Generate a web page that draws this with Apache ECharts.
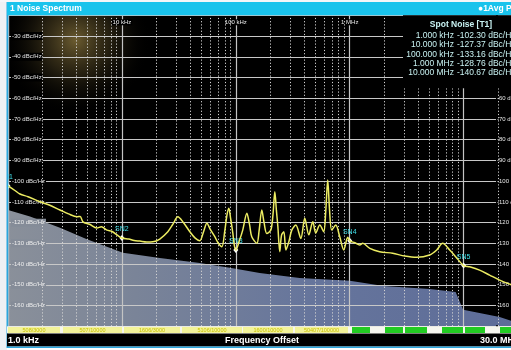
<!DOCTYPE html>
<html><head><meta charset="utf-8">
<script src="https://cdn.jsdelivr.net/npm/echarts@6/dist/echarts.min.js"></script>
<style>html,body{margin:0;padding:0;background:#fff;overflow:hidden}#c{width:511px;height:350px}</style>
</head><body><div id="c"></div>
<script>
// ---- data ----
const traceFreq = [1000,1150,1274,1500,1909,2300,2858,3400,4030,4300,4550,5200,6030,6600,7390,8200,9040,10000,11500,12800,14380,16500,18700,21500,25300,28000,31000,34500,39500,44000,48300,52000,55700,60000,65400,70000,75400,80000,83500,86800,90000,94100,97000,100000,107000,115000,125000,132000,138000,153000,160000,169000,177000,187000,203000,212000,220000,227000,234000,243000,252000,264000,275000,292000,310000,336000,372000,403000,437000,474000,503000,546000,591000,615000,641000,665000,695000,754000,817000,886000,961000,1000000,1107000,1224000,1300000,1500000,1830000,2380000,3040000,3870000,5030000,5800000,6540000,7540000,8510000,10000000,11290000,13800000,16900000,20700000,24300000,30000000];
const traceDb = [-102.3,-104.5,-106.2,-107.5,-109.9,-111.5,-113.9,-115.8,-117.2,-117.0,-119.6,-120.8,-122.6,-122.0,-123.6,-124.3,-125.9,-127.4,-127.9,-128.6,-128.9,-129.3,-129.2,-127.9,-124.4,-120.8,-117.2,-119.8,-124.4,-127.5,-128.7,-124.5,-120.3,-123.5,-126.8,-129.8,-131.6,-124.0,-116.5,-113.1,-118.0,-125.0,-131.0,-133.2,-129.0,-123.6,-115.5,-121.0,-126.8,-130.0,-124.0,-113.9,-120.0,-125.2,-123.6,-116.0,-105.1,-114.0,-122.0,-134.0,-126.0,-124.4,-133.2,-129.2,-123.6,-121.2,-127.6,-117.9,-125.9,-119.6,-125.0,-121.2,-124.4,-115.0,-99.4,-114.0,-123.6,-121.2,-126.8,-133.2,-127.0,-128.8,-129.7,-130.8,-130.0,-132.4,-134.0,-134.8,-136.1,-136.7,-135.6,-133.2,-130.0,-133.2,-136.4,-140.7,-141.3,-142.9,-145.3,-147.7,-149.3,-151.0];
const floorFreq = [1000,1560,2860,4930,10200,21500,48300,94000,162000,364000,1000000,1990000,5030000,8500000,9900000,20700000,30000000];
const floorDb = [-113.9,-117.0,-122.5,-128.0,-134.5,-137.0,-139.5,-142.0,-144.3,-146.7,-148.0,-150.6,-152.0,-153.5,-162.0,-165.5,-168.5];
const spotFreq = [1e3,1e4,1e5,1e6,1e7];
const spotLabels = ['1.000 kHz','10.000 kHz','100.000 kHz','1.000 MHz','10.000 MHz'];
const spotDb = [-102.30,-127.37,-133.16,-128.76,-140.67];
const spotMarkers = ['M1','SN2','SN3','SN4','SN5'];
const majorLabels = {4:'10 kHz',5:'100 kHz',6:'1 MHz'};
const minorMultiples = [2,3,4,5,6,7,8,9];
const decades = [1e3,1e4,1e5,1e6,1e7];
const statusTexts = ['508/3000','507/10000','1606/3000','5106/10000','1600/10000','50407/100000'];
const titleText = '1 Noise Spectrum';
const tableTitle = 'Spot Noise [T1]';
const xStartText = '1.0 kHz', xNameText = 'Frequency Offset', xEndText = '30.0 MHz';

// ---- chart ----
const FONT = '"Liberation Sans", Arial, sans-serif';
const chart = echarts.init(document.getElementById('c'), null, {renderer:'canvas'});
const minorFreqs = [];
decades.forEach(d => minorMultiples.forEach(m => { if (m*d < 3e7) minorFreqs.push(m*d); }));

const yLab = v => {
  if (v <= -170 || v >= -20) return '';
  return (v <= -120 ? '{b|' : '{a|') + v + ' dBc/Hz}';
};
const yLabR = v => (v <= -60 && v >= -160) ? (v + ' dBc/Hz') : '';

const els = [];
// plot background + glare
els.push({type:'rect', z:0, shape:{x:8,y:15.3,width:515,height:311}, style:{fill:'#000'}});
els.push({type:'rect', z:1, shape:{x:8,y:15.3,width:150,height:125},
  style:{fill:new echarts.graphic.RadialGradient(0.45,0.2,0.6,[
    {offset:0,color:'rgba(135,115,60,0.8)'},{offset:0.45,color:'rgba(85,72,38,0.45)'},{offset:1,color:'rgba(0,0,0,0)'}])}});
// frame
els.push({type:'rect', z:20, shape:{x:0,y:0,width:7,height:350}, style:{fill:'#eef1f4'}});
els.push({type:'rect', z:20, shape:{x:0,y:0,width:511,height:2}, style:{fill:'#f4f6f8'}});
els.push({type:'rect', z:20, shape:{x:6.5,y:2,width:1.8,height:346}, style:{fill:'#2aa6dc'}});
els.push({type:'rect', z:20, shape:{x:7,y:2,width:504,height:13.3}, style:{fill:'#19c3ec'}});
els.push({type:'text', z:21, x:10, y:9, style:{text:titleText, fill:'#ffffff', font:'bold 8.5px '+FONT, verticalAlign:'middle', textVerticalAlign:'middle'}});
els.push({type:'text', z:21, x:478, y:9, style:{text:'\u25CF1Avg Pk', fill:'#ffffff', font:'bold 8.5px '+FONT, verticalAlign:'middle', textVerticalAlign:'middle'}});
// spot noise table
els.push({type:'rect', z:20, shape:{x:403,y:15.3,width:110,height:73}, style:{fill:'#000'}});
els.push({type:'text', z:21, x:461, y:24.3, style:{text:tableTitle, fill:'#c8f2f2', font:'bold 8.5px '+FONT, align:'center', textAlign:'center', verticalAlign:'middle', textVerticalAlign:'middle'}});
const rowY = [35.7,45,54.3,63.5,72.7];
spotLabels.forEach((s,i) => {
  els.push({type:'text', z:21, x:454, y:rowY[i], style:{text:s, fill:'#c8f2f2', font:'8.5px '+FONT, align:'right', textAlign:'right', verticalAlign:'middle', textVerticalAlign:'middle'}});
  els.push({type:'text', z:21, x:457, y:rowY[i], style:{text:spotDb[i].toFixed(2)+' dBc/Hz', fill:'#c8f2f2', font:'8.5px '+FONT, verticalAlign:'middle', textVerticalAlign:'middle'}});
});
// status strip
els.push({type:'rect', z:20, shape:{x:7,y:326.3,width:504,height:7.2}, style:{fill:'#f6f6ee'}});
const yBlocks = [[8,60],[63,122],[124,180],[182,242],[243,293],[295,348]];
yBlocks.forEach((b,i) => {
  els.push({type:'rect', z:21, shape:{x:b[0],y:327,width:b[1]-b[0],height:6}, style:{fill:'#f3f39a'}});
  els.push({type:'text', z:22, x:(b[0]+b[1])/2, y:330.2, style:{text:statusTexts[i], fill:'#c8c000', font:'5.5px '+FONT, align:'center', textAlign:'center', verticalAlign:'middle', textVerticalAlign:'middle'}});
});
const gBlocks = [[352,370],[385,403],[405,427],[442,463],[465,485],[500,511]];
gBlocks.forEach(b => els.push({type:'rect', z:21, shape:{x:b[0],y:327,width:b[1]-b[0],height:6}, style:{fill:'#22cc22'}}));
// bottom bar
els.push({type:'rect', z:20, shape:{x:7,y:333.5,width:504,height:13}, style:{fill:'#000'}});
els.push({type:'rect', z:20, shape:{x:7,y:346.5,width:504,height:1.6}, style:{fill:'#2aa6dc'}});
els.push({type:'text', z:21, x:8, y:340.2, style:{text:xStartText, fill:'#fff', font:'bold 9px '+FONT, verticalAlign:'middle', textVerticalAlign:'middle'}});
els.push({type:'text', z:21, x:262, y:340.2, style:{text:xNameText, fill:'#fff', font:'bold 9px '+FONT, align:'center', textAlign:'center', verticalAlign:'middle', textVerticalAlign:'middle'}});
els.push({type:'text', z:21, x:480, y:340.2, style:{text:xEndText, fill:'#fff', font:'bold 9px '+FONT, verticalAlign:'middle', textVerticalAlign:'middle'}});

const option = {
  animation:false,
  backgroundColor:'#ffffff',
  grid:{left:8,right:-7,top:15.3,bottom:23.7,containLabel:false,outerBoundsMode:'none',show:false},
  xAxis:[{type:'log',logBase:10,min:1000,max:3e7,position:'top',z:3,
    axisLine:{show:false},axisTick:{show:false},
    axisLabel:{inside:true,margin:4,fontSize:6,color:'#e8e8e8',fontFamily:FONT,backgroundColor:'#000',padding:[0,1],
      formatter:v => majorLabels[Math.round(Math.log10(v))] || ''},
    splitLine:{show:true,lineStyle:{color:'#c4c4c4',width:1.2}}}],
  yAxis:[
    {type:'value',min:-170,max:-20,interval:10,position:'left',z:3,
     axisLine:{show:false},axisTick:{show:false},
     axisLabel:{inside:true,margin:3,formatter:yLab,
       rich:{a:{fontSize:6,color:'#e6e6e6',fontFamily:FONT,backgroundColor:'#000',padding:[1,1]},
             b:{fontSize:6,color:'#eeeeee',fontFamily:FONT,backgroundColor:'#858c98',padding:[1,1]}}},
     splitLine:{show:true,lineStyle:{color:'#c8c8c8',width:1.2}}},
    {type:'value',min:-170,max:-20,interval:10,position:'right',offset:-23,z:3,
     axisLine:{show:false},axisTick:{show:false},splitLine:{show:false},
     axisLabel:{margin:1,fontSize:6,color:'#e6e6e6',fontFamily:FONT,backgroundColor:'#000',padding:[1,1],formatter:yLabR}}
  ],
  series:[
    {type:'line', name:'floor', z:2, silent:true, symbol:'none',
     data: floorFreq.map((f,i)=>[f,floorDb[i]]),
     lineStyle:{width:0},
     areaStyle:{origin:'start',opacity:1,color:new echarts.graphic.LinearGradient(0,0,1,0,[
       {offset:0,color:'#8a909a'},{offset:0.25,color:'#7a8498'},{offset:0.6,color:'#66759c'},{offset:1,color:'#5d6c98'}])}},
    {type:'line', name:'grid', z:4, silent:true, symbol:'none',
     data: traceFreq.map((f,i)=>[f,traceDb[i]]), lineStyle:{opacity:0},
     markLine:{silent:true,animation:false,symbol:['none','none'],label:{show:false},
       lineStyle:{type:[1.2,2],color:'#d2d2d2',width:1},
       data: minorFreqs.map(f=>({xAxis:f}))}},
    {type:'line', name:'trace', z:5, silent:true, symbol:'none', smooth:0.3,
     data: traceFreq.map((f,i)=>[f,traceDb[i]]),
     lineStyle:{color:'#ecec62',width:1.5},
     markPoint:{silent:true,animation:false,symbol:'diamond',symbolSize:[5,6],itemStyle:{color:'#ffffff'},
       label:{show:true,position:'top',distance:2,color:'#40e0ea',fontSize:7,fontFamily:FONT,formatter:'{b}'},
       data: spotFreq.map((f,i)=>({name:spotMarkers[i],coord:[f,spotDb[i]]}))}}
  ],
  graphic:{elements:els}
};
chart.setOption(option);
</script></body></html>
